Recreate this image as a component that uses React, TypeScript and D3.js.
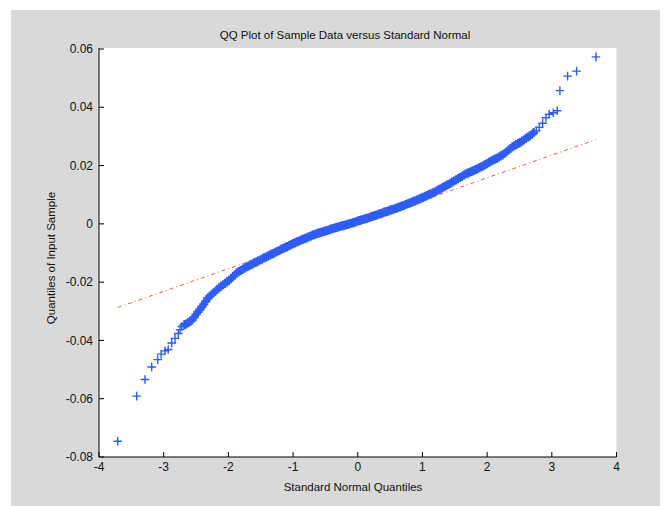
import React from "react";
import * as d3 from "d3";

// Axis ticks
const xTicks = [-4, -3, -2, -1, 0, 1, 2, 3, 4];
const xTickLabels = ["-4", "-3", "-2", "-1", "0", "1", "2", "3", "4"];
const yTicks = [0.06, 0.04, 0.02, 0, -0.02, -0.04, -0.06, -0.08];
const yTickLabels = ["0.06", "0.04", "0.02", "0", "-0.02", "-0.04", "-0.06", "-0.08"];

const title = "QQ Plot of Sample Data versus Standard Normal";
const xLabel = "Standard Normal Quantiles";
const yLabel = "Quantiles of Input Sample";

// Lower tail: [standard normal quantile, sample quantile]
const lowerTail: [number, number][] = [
  [-3.71, -0.0746], [-3.417, -0.0591], [-3.289, -0.0534], [-3.185, -0.0491],
  [-3.093, -0.0466], [-3.04, -0.0447], [-2.98, -0.0436], [-2.93, -0.0431],
  [-2.876, -0.0409], [-2.825, -0.0393], [-2.774, -0.0376], [-2.748, -0.0363],
  [-2.72, -0.0352],
];

// Dense central band of the QQ plot
const band: [number, number][] = [
  [-2.68, -0.0346], [-2.65, -0.0343], [-2.62, -0.0339], [-2.59, -0.0335], [-2.56, -0.0330],
  [-2.53, -0.0321], [-2.50, -0.0311], [-2.47, -0.0302], [-2.44, -0.0294], [-2.41, -0.0285],
  [-2.38, -0.0276], [-2.35, -0.0266], [-2.32, -0.0256], [-2.29, -0.0249], [-2.26, -0.0243],
  [-2.23, -0.0237], [-2.20, -0.0231], [-2.17, -0.0225], [-2.14, -0.0219], [-2.11, -0.0214],
  [-2.08, -0.0209], [-2.05, -0.0204], [-2.02, -0.0199], [-1.99, -0.0194], [-1.96, -0.0188],
  [-1.93, -0.0182], [-1.90, -0.0175], [-1.87, -0.0168], [-1.84, -0.0164], [-1.81, -0.0160],
  [-1.78, -0.0156], [-1.75, -0.0152], [-1.72, -0.0148], [-1.69, -0.0145], [-1.66, -0.0141],
  [-1.63, -0.0138], [-1.60, -0.0134], [-1.57, -0.0131], [-1.54, -0.0128], [-1.51, -0.0124],
  [-1.48, -0.0121], [-1.45, -0.0117], [-1.42, -0.0114], [-1.39, -0.0111], [-1.36, -0.0107],
  [-1.33, -0.0104], [-1.30, -0.0101], [-1.27, -0.0097], [-1.24, -0.0094], [-1.21, -0.0091],
  [-1.18, -0.0087], [-1.15, -0.0084], [-1.12, -0.0081], [-1.09, -0.0078], [-1.06, -0.0075],
  [-1.03, -0.0071], [-1.00, -0.0068], [-0.97, -0.0065], [-0.94, -0.0062], [-0.91, -0.0059],
  [-0.88, -0.0056], [-0.85, -0.0053], [-0.82, -0.0051], [-0.79, -0.0048], [-0.76, -0.0045],
  [-0.73, -0.0042], [-0.70, -0.0039], [-0.67, -0.0037], [-0.64, -0.0034], [-0.61, -0.0032],
  [-0.58, -0.0030], [-0.55, -0.0028], [-0.52, -0.0026], [-0.49, -0.0024], [-0.46, -0.0022],
  [-0.43, -0.0019], [-0.40, -0.0017], [-0.37, -0.0015], [-0.34, -0.0013], [-0.31, -0.0011],
  [-0.28, -0.0009], [-0.25, -0.0007], [-0.22, -0.0006], [-0.19, -0.0004], [-0.16, -0.0002],
  [-0.13, 0.0000], [-0.10, 0.0002], [-0.07, 0.0004], [-0.04, 0.0006], [-0.01, 0.0009],
  [0.02, 0.0011], [0.05, 0.0013], [0.08, 0.0015], [0.11, 0.0017], [0.14, 0.0019],
  [0.17, 0.0021], [0.20, 0.0024], [0.23, 0.0026], [0.26, 0.0028], [0.29, 0.0030],
  [0.32, 0.0033], [0.35, 0.0035], [0.38, 0.0037], [0.41, 0.0040], [0.44, 0.0042],
  [0.47, 0.0044], [0.50, 0.0047], [0.53, 0.0049], [0.56, 0.0051], [0.59, 0.0053],
  [0.62, 0.0056], [0.65, 0.0058], [0.68, 0.0061], [0.71, 0.0063], [0.74, 0.0066],
  [0.77, 0.0069], [0.80, 0.0071], [0.83, 0.0074], [0.86, 0.0077], [0.89, 0.0079],
  [0.92, 0.0082], [0.95, 0.0085], [0.98, 0.0088], [1.01, 0.0091], [1.04, 0.0094],
  [1.07, 0.0097], [1.10, 0.0100], [1.13, 0.0103], [1.16, 0.0106], [1.19, 0.0109],
  [1.22, 0.0113], [1.25, 0.0117], [1.28, 0.0120], [1.31, 0.0124], [1.34, 0.0128],
  [1.37, 0.0132], [1.40, 0.0135], [1.43, 0.0139], [1.46, 0.0143], [1.49, 0.0147],
  [1.52, 0.0151], [1.55, 0.0155], [1.58, 0.0159], [1.61, 0.0163], [1.64, 0.0167],
  [1.67, 0.0171], [1.70, 0.0174], [1.73, 0.0177], [1.76, 0.0180], [1.79, 0.0183],
  [1.82, 0.0186], [1.85, 0.0189], [1.88, 0.0193], [1.91, 0.0196], [1.94, 0.0199],
  [1.97, 0.0203], [2.00, 0.0207], [2.03, 0.0211], [2.06, 0.0215], [2.09, 0.0219],
  [2.12, 0.0222], [2.15, 0.0225], [2.18, 0.0229], [2.21, 0.0233], [2.24, 0.0237],
  [2.27, 0.0242], [2.30, 0.0247], [2.33, 0.0253], [2.36, 0.0258], [2.39, 0.0264],
  [2.42, 0.0268], [2.45, 0.0272], [2.48, 0.0276], [2.51, 0.0279], [2.54, 0.0284],
  [2.57, 0.0288], [2.60, 0.0293], [2.63, 0.0298], [2.66, 0.0302], [2.69, 0.0307],
  [2.72, 0.0313],
];

// Upper tail
const upperTail: [number, number][] = [
  [2.76, 0.0320], [2.805, 0.0331], [2.858, 0.0345], [2.909, 0.0364], [2.96, 0.0376],
  [3.022, 0.0381], [3.084, 0.0388], [3.125, 0.0457], [3.244, 0.0507], [3.383, 0.0524],
  [3.682, 0.0573],
];

// Reference line (dash-dot) end points
const refLine: [number, number][] = [
  [-3.71, -0.0287],
  [3.68, 0.0289],
];

const W = 670;
const H = 506;
const left = 99;
const right = 616.5;
const top = 49;
const bottom = 457;

export default function App() {
  const x = d3.scaleLinear().domain([-4, 4]).range([left, right]);
  const y = d3.scaleLinear().domain([-0.08, 0.06]).range([bottom, top]);

  const plus = (pts: [number, number][], r: number) =>
    pts
      .map(([qx, qy]) => {
        const px = x(qx);
        const py = y(qy);
        return `M${px - r},${py}H${px + r}M${px},${py - r}V${py + r}`;
      })
      .join("");

  const linePath = d3
    .line<[number, number]>()
    .x((d) => x(d[0]))
    .y((d) => y(d[1]))(refLine) as string;

  const font = "Arial, 'Liberation Sans', Helvetica, sans-serif";
  const tickLen = 5;
  const blue = "#2d5cf6";

  return (
    <svg
      width={W}
      height={H}
      style={{ position: "absolute", left: 0, top: 0, background: "#ffffff" }}
      fontFamily={font}
    >
      <rect x={11} y={10} width={649} height={496} fill="#d9d9d9" />
      <rect x={left} y={top - 1} width={right - left} height={bottom - top + 1} fill="#ffffff" />

      <text x={345} y={39} fontSize={11.5} textAnchor="middle" fill="#111">
        {title}
      </text>

      <path
        d={linePath}
        fill="none"
        stroke="#ef5a45"
        strokeWidth={1}
        strokeDasharray="4 3 1 3"
      />

      <path d={plus(band, 4.6)} fill="none" stroke={blue} strokeWidth={2.2} />
      <path d={plus(lowerTail, 4.3)} fill="none" stroke={blue} strokeWidth={1.4} />
      <path d={plus(upperTail, 4.3)} fill="none" stroke={blue} strokeWidth={1.4} />

      {/* axes */}
      <line x1={left} y1={top - 1} x2={left} y2={bottom} stroke="#000" strokeWidth={1} />
      <line x1={left} y1={bottom} x2={right} y2={bottom} stroke="#000" strokeWidth={1} />

      {xTicks.map((t, i) => (
        <g key={"xt" + i}>
          <line x1={x(t)} x2={x(t)} y1={bottom} y2={bottom - tickLen} stroke="#000" />
          <text x={x(t)} y={471} fontSize={12} textAnchor="middle" fill="#111">
            {xTickLabels[i]}
          </text>
        </g>
      ))}

      {yTicks.map((t, i) => (
        <g key={"yt" + i}>
          <line x1={left} x2={left + tickLen} y1={y(t)} y2={y(t)} stroke="#000" />
          <text
            x={93}
            y={y(t)}
            dy="0.35em"
            fontSize={12}
            textAnchor="end"
            fill="#111"
          >
            {yTickLabels[i]}
          </text>
        </g>
      ))}

      <text x={353} y={491} fontSize={11.5} textAnchor="middle" fill="#111">
        {xLabel}
      </text>
      <text
        transform="translate(55,258) rotate(-90)"
        fontSize={11.5}
        textAnchor="middle"
        fill="#111"
      >
        {yLabel}
      </text>
    </svg>
  );
}
